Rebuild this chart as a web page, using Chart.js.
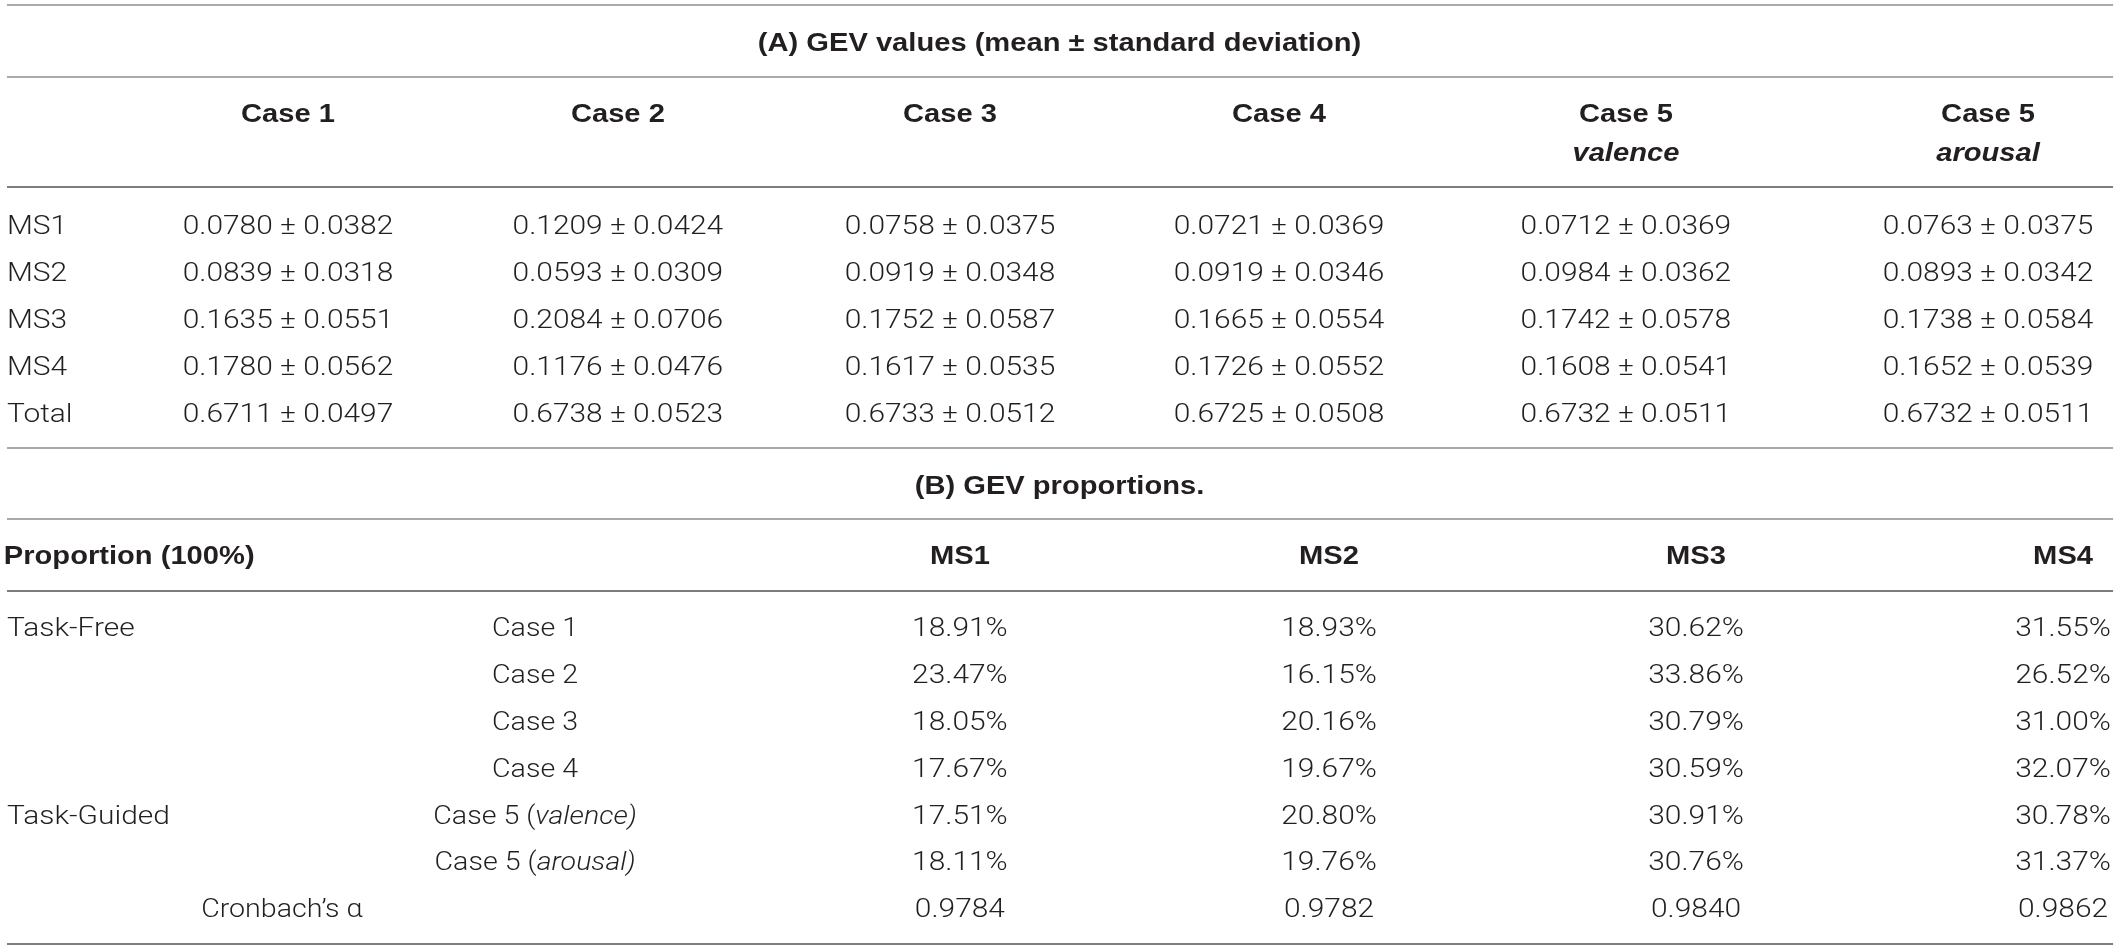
<!DOCTYPE html>
<html>
<head>
<meta charset="utf-8">
<title>GEV values and proportions</title>
<script src="https://cdn.jsdelivr.net/npm/chart.js@4.4.1/dist/chart.umd.min.js"></script>
<style>
  html, body { margin: 0; padding: 0; background: #ffffff; }
  #table { display: block; }
</style>
</head>
<body>
<canvas id="table" width="2119" height="951"></canvas>
<script>
// ---- data: (A) GEV values, mean and standard deviation per case ----
const caseNames = ["Case 1", "Case 2", "Case 3", "Case 4", "Case 5", "Case 5"];
const caseSub = ["", "", "", "", "valence", "arousal"];
const stateNames = ["MS1", "MS2", "MS3", "MS4", "Total"];

const meanCase1 = [0.0780, 0.0839, 0.1635, 0.1780, 0.6711];
const sdCase1 = [0.0382, 0.0318, 0.0551, 0.0562, 0.0497];
const meanCase2 = [0.1209, 0.0593, 0.2084, 0.1176, 0.6738];
const sdCase2 = [0.0424, 0.0309, 0.0706, 0.0476, 0.0523];
const meanCase3 = [0.0758, 0.0919, 0.1752, 0.1617, 0.6733];
const sdCase3 = [0.0375, 0.0348, 0.0587, 0.0535, 0.0512];
const meanCase4 = [0.0721, 0.0919, 0.1665, 0.1726, 0.6725];
const sdCase4 = [0.0369, 0.0346, 0.0554, 0.0552, 0.0508];
const meanValence = [0.0712, 0.0984, 0.1742, 0.1608, 0.6732];
const sdValence = [0.0369, 0.0362, 0.0578, 0.0541, 0.0511];
const meanArousal = [0.0763, 0.0893, 0.1738, 0.1652, 0.6732];
const sdArousal = [0.0375, 0.0342, 0.0584, 0.0539, 0.0511];

// ---- data: (B) GEV proportions (%) per microstate ----
const propCases = ["Case 1", "Case 2", "Case 3", "Case 4", "Case 5 (valence)", "Case 5 (arousal)"];
const propGroups = ["Task-Free", "", "", "", "Task-Guided", ""];
const msNames = ["MS1", "MS2", "MS3", "MS4"];
const propMS1 = [18.91, 23.47, 18.05, 17.67, 17.51, 18.11];
const propMS2 = [18.93, 16.15, 20.16, 19.67, 20.80, 19.76];
const propMS3 = [30.62, 33.86, 30.79, 30.59, 30.91, 30.76];
const propMS4 = [31.55, 26.52, 31.00, 32.07, 30.78, 31.37];
const cronbach = [0.9784, 0.9782, 0.9840, 0.9862];

const meansA = [meanCase1, meanCase2, meanCase3, meanCase4, meanValence, meanArousal];
const sdsA = [sdCase1, sdCase2, sdCase3, sdCase4, sdValence, sdArousal];
const propsB = [propMS1, propMS2, propMS3, propMS4];

// ---- layout (scale units: 0..100 across and down the table) ----
const colA = [13.59, 29.16, 44.83, 60.36, 76.73, 93.82];
const colB = [45.30, 62.72, 80.04, 97.36];
const colLabel = 0.33;
const colCaseB = 25.25;
const colCron = 13.3;
const colMid = 50.0;
const rowTitleA = 4.42, rowHeadA = 11.88, rowHeadA2 = 15.98;
const rowStartA = 23.66, rowStep = 4.92;
const rowTitleB = 51.0, rowHeadB = 58.36, rowStartB = 65.93;
const rules = [
  { y: 0.53, c: "#a9a9a9" }, { y: 8.10, c: "#a9a9a9" }, { y: 19.66, c: "#7d7d7d" },
  { y: 47.11, c: "#a9a9a9" }, { y: 54.57, c: "#a9a9a9" }, { y: 62.15, c: "#7d7d7d" },
  { y: 99.26, c: "#7d7d7d" }
];
const ruleLeft = 0.33, ruleRight = 99.72;

const FONT_SIZE = 26;
const TEXT = "#231f20";
const LIGHT = "300 " + FONT_SIZE + "px Roboto, 'Liberation Sans', sans-serif";
const LIGHT_IT = "italic 300 " + FONT_SIZE + "px Roboto, 'Liberation Sans', sans-serif";
const BOLD = "bold " + FONT_SIZE + "px 'Liberation Sans', Arial, sans-serif";
const BOLD_IT = "italic bold " + FONT_SIZE + "px 'Liberation Sans', Arial, sans-serif";
// horizontal stretch of the type, the source face is wider than these
const STRETCH_LIGHT = 1.15;
const STRETCH_BOLD = 1.12;

// one text cell = one point; segs hold the text runs and their fonts
function cell(x, y, segs, align, stretch) {
  return { x: x, y: y, segs: segs, align: align || "center", k: stretch || STRETCH_LIGHT };
}
function plain(s) { return [{ s: s, f: LIGHT }]; }
function bold(s) { return [{ s: s, f: BOLD }]; }

const cellsA = [];
cellsA.push(cell(colMid, rowTitleA, bold("(A) GEV values (mean \u00b1 standard deviation)"), "center", STRETCH_BOLD));
caseNames.forEach((name, c) => {
  cellsA.push(cell(colA[c], rowHeadA, bold(name), "center", STRETCH_BOLD));
  if (caseSub[c]) cellsA.push(cell(colA[c], rowHeadA2, [{ s: caseSub[c], f: BOLD_IT }], "center", STRETCH_BOLD));
});
stateNames.forEach((st, r) => {
  const y = rowStartA + r * rowStep;
  cellsA.push(cell(colLabel, y, plain(st), "left"));
  meansA.forEach((m, c) => {
    cellsA.push(cell(colA[c], y, plain(m[r].toFixed(4) + " \u00b1 " + sdsA[c][r].toFixed(4))));
  });
});

const cellsB = [];
cellsB.push(cell(colMid, rowTitleB, bold("(B) GEV proportions."), "center", STRETCH_BOLD));
cellsB.push(cell(colLabel - 0.15, rowHeadB, bold("Proportion (100%)"), "left", STRETCH_BOLD));
msNames.forEach((ms, c) => cellsB.push(cell(colB[c], rowHeadB, bold(ms), "center", STRETCH_BOLD)));
propCases.forEach((pc, r) => {
  const y = rowStartB + r * rowStep;
  if (propGroups[r]) cellsB.push(cell(colLabel, y, plain(propGroups[r]), "left"));
  const k = pc.indexOf("(");
  const segs = k < 0 ? plain(pc) : [{ s: pc.slice(0, k + 1), f: LIGHT }, { s: pc.slice(k + 1), f: LIGHT_IT }];
  cellsB.push(cell(colCaseB, y, segs, "center", 1.1));
  propsB.forEach((p, c) => cellsB.push(cell(colB[c], y, plain(p[r].toFixed(2) + "%"))));
});
const yCron = rowStartB + propCases.length * rowStep;
cellsB.push(cell(colCron, yCron, plain("Cronbach\u2019s \u03b1"), "center", 1.1));
cronbach.forEach((a, c) => cellsB.push(cell(colB[c], yCron, plain(a.toFixed(4)))));

// draws horizontal rules and the text of every point
const tablePlugin = {
  id: "tableText",
  beforeDatasetsDraw(chart) {
    const ctx = chart.ctx, xs = chart.scales.x, ys = chart.scales.y;
    ctx.save();
    ctx.lineWidth = 2;
    rules.forEach(r => {
      const py = Math.round(ys.getPixelForValue(r.y));
      ctx.strokeStyle = r.c;
      ctx.beginPath();
      ctx.moveTo(xs.getPixelForValue(ruleLeft), py);
      ctx.lineTo(xs.getPixelForValue(ruleRight), py);
      ctx.stroke();
    });
    ctx.restore();
  },
  afterDatasetsDraw(chart) {
    const ctx = chart.ctx;
    chart.data.datasets.forEach((ds, i) => {
      const meta = chart.getDatasetMeta(i);
      meta.data.forEach((pt, j) => {
        const d = ds.data[j];
        let w = 0;
        d.segs.forEach(s => { ctx.font = s.f; s.w = ctx.measureText(s.s).width; w += s.w; });
        w *= d.k;
        let x0 = pt.x;
        if (d.align === "center") x0 -= w / 2;
        else if (d.align === "right") x0 -= w;
        ctx.save();
        ctx.fillStyle = TEXT;
        ctx.textBaseline = "alphabetic";
        ctx.translate(x0, pt.y + FONT_SIZE * 0.36);
        ctx.scale(d.k, 1);
        let cx = 0;
        d.segs.forEach(s => { ctx.font = s.f; ctx.fillText(s.s, cx, 0); cx += s.w; });
        ctx.restore();
      });
    });
  }
};

new Chart(document.getElementById("table"), {
  type: "scatter",
  plugins: [tablePlugin],
  data: {
    datasets: [
      { label: "GEV values", data: cellsA, pointRadius: 0, clip: false },
      { label: "GEV proportions", data: cellsB, pointRadius: 0, clip: false }
    ]
  },
  options: {
    responsive: false,
    animation: false,
    devicePixelRatio: 1,
    layout: { padding: 0 },
    plugins: { legend: { display: false }, tooltip: { enabled: false } },
    scales: {
      x: { type: "linear", min: 0, max: 100, display: false },
      y: { type: "linear", min: 0, max: 100, reverse: true, display: false }
    }
  }
});
</script>
</body>
</html>
